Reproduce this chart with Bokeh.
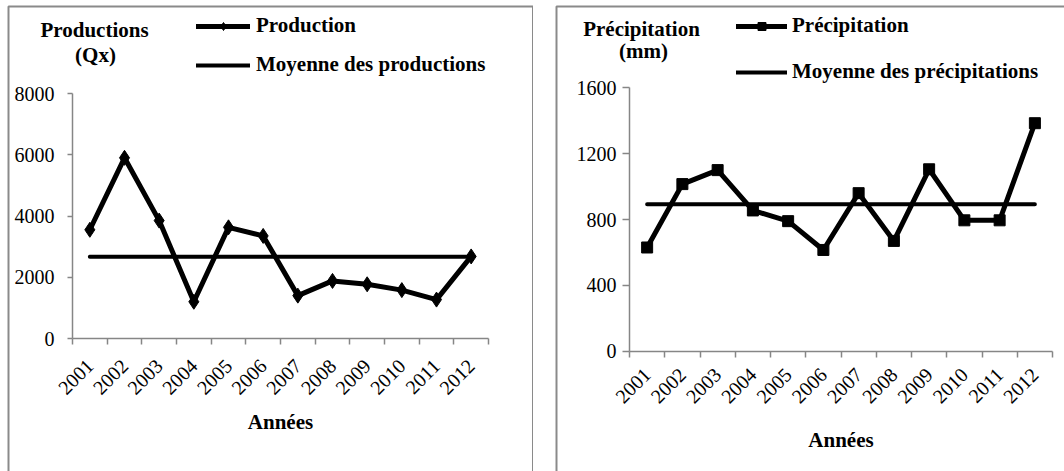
import math

import numpy as np
from bokeh.embed import file_html
from bokeh.layouts import row
from bokeh.models import (BoxAnnotation, FixedTicker, Label, Legend,
                          LegendItem, LinearAxis, Range1d)
from bokeh.plotting import figure
from bokeh.resources import INLINE

# ---- data -------------------------------------------------------------
years = ["2001", "2002", "2003", "2004", "2005", "2006",
         "2007", "2008", "2009", "2010", "2011", "2012"]
production = [3550, 5900, 3850, 1200, 3630, 3350, 1400, 1880, 1770, 1580, 1270, 2680]
precipitation = [630, 1015, 1100, 855, 790, 615, 960, 670, 1105, 795, 795, 1385]
prod_ticks = [0, 2000, 4000, 6000, 8000]
prec_ticks = [0, 400, 800, 1200, 1600]

SERIF = "Liberation Serif"
AXIS_GREY = "#868686"
FRAME_GREY = "#8a8a8a"
HEIGHT = 471

n = len(years)
xs = [i + 0.5 for i in range(n)]          # category centres
bounds = list(range(n + 1))               # category boundaries


def build(series, ticks, marker, m_size, name, mean_name, ytitle,
          width, area, ytick_out, ystandoff, xstandoff, lab_standoff,
          legend_loc, glyph_w, leg_standoff, leg_spacing, title_xy, box_lr):
    # area = pixel box of the plotting area inside the chart canvas
    pl, pr, pt, pb = area
    ymax = ticks[-1]
    ux = (pr - pl) / n
    uy = (pb - pt) / ymax
    x_range = Range1d(-pl / ux, n + (width - pr) / ux)
    y_range = Range1d(-(HEIGHT - pb) / uy, ymax + pt / uy)

    p = figure(width=width, height=HEIGHT, title=None, toolbar_location=None,
               output_backend="svg", x_range=x_range, y_range=y_range,
               x_axis_type=None, y_axis_type=None, min_border=0,
               background_fill_color="white", border_fill_color="white")
    p.outline_line_color = None
    p.grid.visible = False

    # y axis
    ya = LinearAxis(fixed_location=0, bounds=(0, ymax),
                    ticker=FixedTicker(ticks=ticks))
    ya.axis_line_color = AXIS_GREY
    ya.axis_line_width = 1.5
    ya.major_tick_line_color = AXIS_GREY
    ya.major_tick_line_width = 1.5
    ya.major_tick_out = ytick_out
    ya.major_tick_in = 0
    ya.minor_tick_line_color = None
    ya.major_label_standoff = ystandoff
    ya.major_label_text_font = SERIF
    ya.major_label_text_font_size = "20px"
    ya.major_label_text_color = "black"
    p.add_layout(ya, "left")

    # x axis: labels at category centres, ticks at category boundaries
    xa = LinearAxis(fixed_location=0, bounds=(0, n),
                    ticker=FixedTicker(ticks=xs, minor_ticks=bounds))
    xa.major_label_overrides = {x: y for x, y in zip(xs, years)}
    xa.major_label_orientation = math.pi / 4
    xa.major_tick_out = 0
    xa.major_tick_in = 0
    xa.minor_tick_out = 6
    xa.minor_tick_in = 0
    xa.minor_tick_line_color = AXIS_GREY
    xa.minor_tick_line_width = 1.5
    xa.axis_line_color = AXIS_GREY
    xa.axis_line_width = 1.5
    xa.major_label_standoff = xstandoff
    xa.major_label_text_font = SERIF
    xa.major_label_text_font_size = "20px"
    xa.major_label_text_color = "black"
    xa.axis_label = "Années"
    xa.axis_label_text_font = SERIF
    xa.axis_label_text_font_size = "21px"
    xa.axis_label_text_font_style = "bold"
    xa.axis_label_text_color = "black"
    xa.axis_label_standoff = lab_standoff
    p.add_layout(xa, "below")

    # series and its mean
    mean_vals = [float(np.mean(series))] * n
    mean_r = p.line(xs, mean_vals, line_color="black", line_width=4,
                    line_cap="round")
    line_r = p.line(xs, series, line_color="black", line_width=5,
                    line_join="round", line_cap="round")
    mark_r = p.scatter(xs, series, marker=marker, size=m_size,
                       fill_color="black", line_color="black")

    legend = Legend(items=[LegendItem(label=name, renderers=[line_r, mark_r]),
                           LegendItem(label=mean_name, renderers=[mean_r])],
                    location=legend_loc, orientation="vertical",
                    padding=0, margin=0, border_line_color=None,
                    background_fill_alpha=0, glyph_width=glyph_w,
                    glyph_height=20, label_height=20,
                    label_standoff=leg_standoff, spacing=leg_spacing,
                    label_text_font=SERIF, label_text_font_size="21px",
                    label_text_font_style="bold", label_text_color="black")
    p.add_layout(legend, "center")

    # vertical axis title in two lines above the axis
    (tx1, ty1), (tx2, ty2) = title_xy
    for txt, tx, ty in ((ytitle[0], tx1, ty1), (ytitle[1], tx2, ty2)):
        p.add_layout(Label(x=tx, y=ty, x_units="canvas", y_units="canvas",
                           text=txt, text_align="center",
                           text_baseline="alphabetic",
                           text_font=SERIF, text_font_size="21px",
                           text_font_style="bold", text_color="black"))

    # chart area border
    bl, br = box_lr
    p.add_layout(BoxAnnotation(left=bl, right=br, top=6, bottom=HEIGHT + 20,
                               left_units="canvas", right_units="canvas",
                               top_units="canvas", bottom_units="canvas",
                               fill_alpha=0, line_color=FRAME_GREY,
                               line_width=2, line_alpha=1))
    return p


p_prod = build(production, prod_ticks, "diamond", 15,
               "Production", "Moyenne des productions", ("Productions", "(Qx)"),
               width=533, area=(72, 488, 93, 338), ytick_out=5, ystandoff=13,
               xstandoff=18, lab_standoff=6, legend_loc=(196, 394), glyph_w=54,
               leg_standoff=6, leg_spacing=14, title_xy=((94, 29), (95, 54)),
               box_lr=(8, 532.5))

p_prec = build(precipitation, prec_ticks, "square", 11,
               "Précipitation", "Moyenne des précipitations",
               ("Précipitation", "(mm)"),
               width=531, area=(96, 519, 87.3, 350.7), ytick_out=7, ystandoff=6,
               xstandoff=14, lab_standoff=15, legend_loc=(203, 387), glyph_w=51,
               leg_standoff=5, leg_spacing=21, title_xy=((108, 28), (110, 50)),
               box_lr=(23, 545))

layout = row(p_prod, p_prec, spacing=0)
open("out.html", "w").write(file_html(layout, INLINE))
